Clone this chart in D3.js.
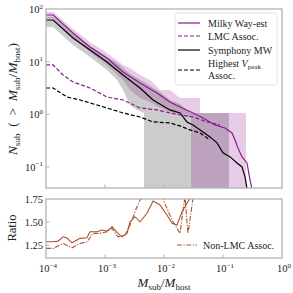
<!DOCTYPE html>
<html>
<head>
<meta charset="utf-8">
<script src="https://cdn.jsdelivr.net/npm/d3@7"></script>
<style>
  body { margin: 0; background: #fff; }
  text { font-family: "Liberation Serif", "DejaVu Serif", serif; fill: #222; }
</style>
</head>
<body>
<main></main>
<script>
// cumulative subhalo mass functions

// Milky Way-est (mean)
let mwX = [1e-4, 1.32e-4, 2.87e-4, 5.57e-4, 1.08e-3, 2.02e-3, 3.92e-3, 7.60e-3, 1.26e-2, 1.87e-2, 3.10e-2, 4.58e-2, 7.31e-2, 0.108, 0.142, 0.160, 0.179, 0.210, 0.255, 0.287, 0.322];
let mwN = [76.9, 76.9, 35.0, 19.0, 11.7, 6.37, 3.94, 2.54, 1.71, 1.38, 1.06, 0.853, 0.628, 0.551, 0.443, 0.326, 0.230, 0.155, 0.119, 0.0566, 0.030];

// Symphony MW (mean)
let symX = [1e-4, 1.32e-4, 2.87e-4, 5.57e-4, 1.08e-3, 2.02e-3, 3.92e-3, 6.52e-3, 1.26e-2, 1.87e-2, 2.45e-2, 3.10e-2, 4.58e-2, 6.03e-2, 7.91e-2, 0.100, 0.132, 0.173, 0.210, 0.236, 0.265];
let symN = [61.8, 61.8, 28.1, 16.7, 9.86, 5.58, 3.16, 1.87, 1.21, 1.06, 0.716, 0.628, 0.462, 0.372, 0.286, 0.185, 0.155, 0.119, 0.100, 0.0646, 0.030];

// LMC associated
let lmcX = [1e-4, 1.32e-4, 1.94e-4, 2.87e-4, 5.57e-4, 1.08e-3, 2.02e-3, 3.92e-3, 7.60e-3, 1.26e-2, 1.87e-2, 3.10e-2, 5.36e-2, 8.89e-2];
let lmcN = [8.65, 8.65, 5.58, 4.11, 3.16, 2.13, 1.87, 1.32, 1.21, 1.06, 0.971, 0.889, 0.716, 0.628];

// highest Vpeak associated
let hvX = [1e-4, 1.32e-4, 2.27e-4, 3.77e-4, 1.08e-3, 2.02e-3, 3.92e-3, 6.52e-3, 1.26e-2, 1.87e-2, 2.76e-2, 4.07e-2, 6.03e-2];
let hvN = [3.16, 3.16, 2.13, 1.87, 1.32, 1.06, 0.889, 0.716, 0.686, 0.601, 0.505, 0.443, 0.326];

// host-to-host scatter (0 = no subhalos left)
let gbX = [1e-4, 1.32e-4, 2.87e-4, 5.57e-4, 1.08e-3, 1.60e-3, 2.02e-3, 2.66e-3, 3.48e-3, 4.58e-3, 4.58e-3, 5.79e-3, 8.56e-3, 1.26e-2, 1.87e-2, 2.76e-2, 0.126, 0.126];
let gbHi = [70.5, 70.5, 33.5, 19.8, 12.3, 9.44, 7.59, 5.83, 4.90, 4.11, 4.11, 3.45, 2.65, 1.87, 1.57, 1.06, 1.06, 0];
let gbLo = [45.5, 45.5, 20.7, 12.3, 6.95, 4.49, 2.90, 1.50, 1.21, 1.06, 0, 0, 0, 0, 0, 0, 0, 0];

let pbX = [1e-4, 1.32e-4, 2.87e-4, 5.57e-4, 1.08e-3, 2.02e-3, 2.66e-3, 3.92e-3, 5.79e-3, 8.56e-3, 1.26e-2, 1.87e-2, 2.87e-2, 2.87e-2, 4.07e-2, 4.07e-2, 0.245, 0.245];
let pbHi = [87.7, 87.7, 41.7, 23.6, 14.6, 8.65, 7.59, 5.58, 4.49, 2.90, 2.90, 2.04, 2.04, 2.04, 2.04, 1.06, 1.06, 0];
let pbLo = [67.5, 67.5, 28.1, 15.3, 8.65, 4.49, 2.90, 2.04, 1.71, 1.32, 1.11, 0.971, 0.853, 0, 0, 0, 0, 0];

// ratio panel
let ratioX = [1e-4, 1.32e-4, 1.60e-4, 1.94e-4, 2.27e-4, 2.76e-4, 3.77e-4, 4.95e-4, 5.57e-4, 7.31e-4, 8.89e-4, 1.08e-3, 1.32e-3, 1.60e-3, 1.94e-3, 2.36e-3, 2.66e-3, 3.22e-3, 3.92e-3, 5.15e-3, 6.52e-3, 8.56e-3, 1.12e-2, 1.37e-2, 1.66e-2, 2.02e-2, 2.45e-2, 2.76e-2, 3.10e-2];
let ratioAll = [1.286, 1.286, 1.293, 1.340, 1.326, 1.275, 1.323, 1.329, 1.395, 1.395, 1.413, 1.402, 1.449, 1.388, 1.340, 1.377, 1.503, 1.558, 1.503, 1.595, 1.728, 1.685, 1.576, 1.486, 1.467, 1.612, 1.703, 1.758, 1.85];
let nonLmcX = [1e-4, 1.32e-4, 1.94e-4, 2.76e-4, 3.77e-4, 4.95e-4, 6.27e-4, 8.22e-4, 1.08e-3, 1.32e-3, 1.66e-3, 2.18e-3, 2.66e-3, 3.48e-3, 3.92e-3, 5.15e-3, 8.56e-3, 1.12e-2, 1.37e-2, 1.66e-2, 1.87e-2, 2.10e-2, 2.27e-2, 2.45e-2, 2.55e-2, 2.99e-2, 3.2e-2];
let nonLmcR = [1.214, 1.214, 1.268, 1.221, 1.268, 1.286, 1.377, 1.377, 1.395, 1.432, 1.340, 1.359, 1.467, 1.666, 1.739, 1.793, 1.826, 1.649, 1.522, 1.432, 1.377, 1.630, 1.775, 1.503, 1.377, 1.685, 1.85];

let xTicks = [-4, -3, -2, -1, 0];
let yTicksTop = [2, 1, 0, -1];
let yTicksBot = [1.25, 1.50, 1.75];

let width = 293, height = 293;
let purple = '#8b1c8b', brown = '#a9542e', spine = '#b3b3b3';
let floor = 1e-3;

let svg = d3.select('main').append('svg')
  .attr('width', width).attr('height', height);

let x = d3.scaleLog().domain([1e-4, 1]).range([46, 282]);
let yTop = d3.scaleLog().domain([Math.pow(10, -1.4), 100]).range([188, 9]);
let yBot = d3.scaleLinear().domain([1.11, 1.75]).range([258, 199]);

let defs = svg.append('defs');
defs.append('clipPath').attr('id', 'clipTop').append('rect')
  .attr('x', 46).attr('y', 9).attr('width', 236).attr('height', 179);
defs.append('clipPath').attr('id', 'clipBot').append('rect')
  .attr('x', 46).attr('y', 199).attr('width', 236).attr('height', 59);

let upper = svg.append('g').attr('clip-path', 'url(#clipTop)');
let lower = svg.append('g').attr('clip-path', 'url(#clipBot)');

function band(xs, lo, hi) {
  return d3.area()
    .x(i => x(xs[i]))
    .y0(i => yTop(Math.max(lo[i], floor)))
    .y1(i => yTop(Math.max(hi[i], floor)))(d3.range(xs.length));
}

upper.append('path').attr('d', band(gbX, gbLo, gbHi))
  .attr('fill', '#000').attr('fill-opacity', 0.2);
upper.append('path').attr('d', band(pbX, pbLo, pbHi))
  .attr('fill', 'purple').attr('fill-opacity', 0.2);

let lineTop = d3.line().x(d => x(d[0])).y(d => yTop(d[1]));
let lineBot = d3.line().x(d => x(d[0])).y(d => yBot(d[1]));

let curves = [
  { xs: symX, ys: symN, color: '#000', dash: null },
  { xs: mwX, ys: mwN, color: purple, dash: null },
  { xs: hvX, ys: hvN, color: '#000', dash: '4,2' },
  { xs: lmcX, ys: lmcN, color: purple, dash: '4,2' }
];

upper.selectAll('.curve')
  .data(curves)
  .enter().append('path')
  .attr('class', 'curve')
  .attr('d', c => lineTop(d3.zip(c.xs, c.ys)))
  .attr('fill', 'none')
  .attr('stroke', c => c.color)
  .attr('stroke-width', 1.2)
  .attr('stroke-dasharray', c => c.dash);

lower.append('path').attr('d', lineBot(d3.zip(ratioX, ratioAll)))
  .attr('fill', 'none').attr('stroke', brown).attr('stroke-width', 1.1);
lower.append('path').attr('d', lineBot(d3.zip(nonLmcX, nonLmcR)))
  .attr('fill', 'none').attr('stroke', brown).attr('stroke-width', 1.1)
  .attr('stroke-dasharray', '5,1.5,1.2,1.5');

// frames + inward ticks
[[9, 188], [199, 258]].forEach(([y0, y1]) => {
  svg.append('rect').attr('x', 46).attr('y', y0).attr('width', 236).attr('height', y1 - y0)
    .attr('fill', 'none').attr('stroke', spine).attr('stroke-width', 1.3);
  svg.selectAll(null).data(xTicks.slice(1, -1)).enter().append('line')
    .attr('x1', e => x(Math.pow(10, e))).attr('x2', e => x(Math.pow(10, e)))
    .attr('y1', y1).attr('y2', y1 - 3.5)
    .attr('stroke', spine).attr('stroke-width', 1);
});
svg.selectAll(null).data(yTicksTop.slice(1)).enter().append('line')
  .attr('x1', 46).attr('x2', 49.5)
  .attr('y1', e => yTop(Math.pow(10, e))).attr('y2', e => yTop(Math.pow(10, e)))
  .attr('stroke', spine);
svg.selectAll(null).data(yTicksBot.slice(0, -1)).enter().append('line')
  .attr('x1', 46).attr('x2', 49.5)
  .attr('y1', d => yBot(d)).attr('y2', d => yBot(d))
  .attr('stroke', spine);

function powLabel(sel, e) {
  sel.append('tspan').text('10');
  sel.append('tspan').attr('dy', -4.5).attr('font-size', 7).text(e < 0 ? '\u2212' + (-e) : e);
}

svg.selectAll(null).data(yTicksTop).enter().append('text')
  .attr('x', 43).attr('y', e => yTop(Math.pow(10, e)) + 4)
  .attr('text-anchor', 'end').attr('font-size', 10.5)
  .each(function (e) { powLabel(d3.select(this), e); });

svg.selectAll(null).data(yTicksBot).enter().append('text')
  .attr('x', 43).attr('y', d => yBot(d) + 3.5)
  .attr('text-anchor', 'end').attr('font-size', 10.5)
  .text(d => d.toFixed(2));

svg.selectAll(null).data(xTicks).enter().append('text')
  .attr('x', e => x(Math.pow(10, e)) + 2).attr('y', 272)
  .attr('text-anchor', 'middle').attr('font-size', 10.5)
  .each(function (e) { powLabel(d3.select(this), e); });

// axis titles
function massRatio(t, size) {
  t.append('tspan').attr('font-style', 'italic').text('M');
  t.append('tspan').attr('dy', 2.5).attr('font-size', size).text('sub');
  t.append('tspan').attr('dy', -2.5).text('/');
  t.append('tspan').attr('font-style', 'italic').text('M');
  t.append('tspan').attr('dy', 2.5).attr('font-size', size).text('host');
  return t;
}

let xl = svg.append('text').attr('x', 164).attr('y', 287)
  .attr('text-anchor', 'middle').attr('font-size', 13);
massRatio(xl, 9);

let yl = svg.append('text').attr('transform', 'translate(17,99) rotate(-90)')
  .attr('text-anchor', 'middle').attr('font-size', 13.5);
yl.append('tspan').attr('font-style', 'italic').text('N');
yl.append('tspan').attr('dy', 2.5).attr('font-size', 9).text('sub');
yl.append('tspan').attr('dy', -2.5).text('\u2002(\u2002>\u2002');
massRatio(yl, 9);
yl.append('tspan').attr('dy', -2.5).text(')');

svg.append('text').attr('transform', 'translate(16,228) rotate(-90)')
  .attr('text-anchor', 'middle').attr('font-size', 12.5).text('Ratio');

// legends
let leg = svg.append('g');
leg.append('rect').attr('x', 175).attr('y', 13).attr('width', 102).attr('height', 72)
  .attr('rx', 2.5).attr('fill', '#fff').attr('fill-opacity', 0.85)
  .attr('stroke', '#dcdcdc').attr('stroke-width', 0.8);

let legItems = [
  { label: 'Milky Way-est', color: purple, dash: null, y: 23 },
  { label: 'LMC Assoc.', color: purple, dash: '4,2', y: 36 },
  { label: 'Symphony MW', color: '#000', dash: null, y: 50 },
  { label: null, color: '#000', dash: '4,2', y: 70 }
];
legItems.forEach(d => {
  leg.append('line').attr('x1', 178).attr('x2', 200).attr('y1', d.y).attr('y2', d.y)
    .attr('stroke', d.color).attr('stroke-width', 1.2).attr('stroke-dasharray', d.dash);
  if (d.label) {
    leg.append('text').attr('x', 208).attr('y', d.y + 3.5).attr('font-size', 10).text(d.label);
  }
});
let hv = leg.append('text').attr('x', 208).attr('y', 66.5).attr('font-size', 10);
hv.append('tspan').text('Highest ');
hv.append('tspan').attr('font-style', 'italic').text('V');
hv.append('tspan').attr('dy', 2).attr('font-size', 7).text('peak');
leg.append('text').attr('x', 208).attr('y', 79).attr('font-size', 10).text('Assoc.');

svg.append('line').attr('x1', 177).attr('x2', 197).attr('y1', 245).attr('y2', 245)
  .attr('stroke', brown).attr('stroke-width', 1.1).attr('stroke-dasharray', '5,1.5,1.2,1.5');
svg.append('text').attr('x', 203).attr('y', 248.5).attr('font-size', 10).text('Non-LMC Assoc.');
</script>
</body>
</html>
